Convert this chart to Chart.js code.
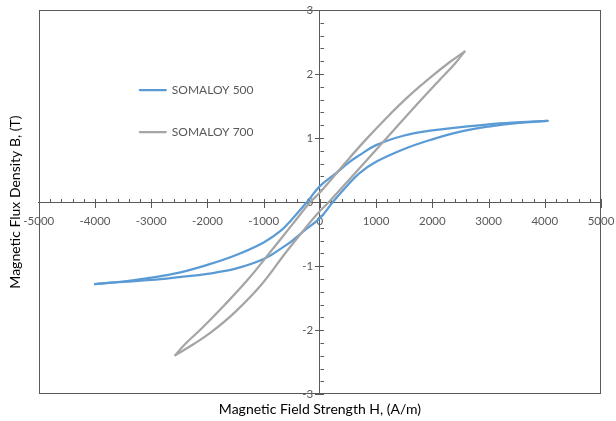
<!DOCTYPE html>
<html>
<head>
<meta charset="utf-8">
<script src="https://cdn.jsdelivr.net/npm/chart.js@4.4.1/dist/chart.umd.min.js"></script>
<style>
html,body{margin:0;padding:0;background:#ffffff;}
#wrap{width:616px;height:421px;position:relative;}
</style>
</head>
<body>
<div id="wrap"><canvas id="c" width="616" height="421"></canvas></div>
<script>
// ---- data ----
const seriesNames = ['SOMALOY 500', 'SOMALOY 700'];
const seriesColors = ['#5B9BD5', '#A5A5A5'];
const hTicks = [-5000, -4000, -3000, -2000, -1000, 0, 1000, 2000, 3000, 4000, 5000];
const bTicks = [-3, -2, -1, 0, 1, 2, 3];

// SOMALOY 500 : descending branch (from +tip to -tip)
const s500DescH = [4050, 3500, 3000, 2500, 2000, 1500, 1000, 700, 500, 300, 0, -230, -500, -700, -1000, -1500, -2000, -2500, -3000, -3500, -4000];
const s500DescB = [1.27, 1.245, 1.215, 1.17, 1.12, 1.04, 0.89, 0.73, 0.61, 0.46, 0.25, 0.0, -0.27, -0.45, -0.63, -0.83, -0.98, -1.10, -1.18, -1.24, -1.28];
// SOMALOY 500 : ascending branch (from -tip to +tip)
const s500AscH = [-4000, -3500, -3000, -2500, -2000, -1500, -1000, -700, -500, -300, 0, 230, 500, 700, 1000, 1500, 2000, 2500, 3000, 3500, 4050];
const s500AscB = [-1.28, -1.245, -1.215, -1.17, -1.12, -1.04, -0.89, -0.73, -0.61, -0.46, -0.25, 0.0, 0.27, 0.45, 0.63, 0.83, 0.98, 1.10, 1.18, 1.235, 1.27];

// SOMALOY 700 : descending branch (from +tip to -tip)
const s700DescH = [2572, 2300, 2000, 1600, 1200, 800, 400, 0, -170, -500, -900, -1300, -1700, -2100, -2400, -2570];
const s700DescB = [2.35, 2.18, 1.97, 1.67, 1.33, 0.96, 0.56, 0.15, 0.0, -0.36, -0.80, -1.23, -1.61, -1.97, -2.22, -2.39];
// SOMALOY 700 : ascending branch (from -tip to +tip)
const s700AscH = [-2570, -2250, -1945, -1500, -1050, -600, -300, 0, 160, 500, 900, 1300, 1700, 2100, 2400, 2572];
const s700AscB = [-2.39, -2.22, -2.04, -1.71, -1.30, -0.78, -0.45, -0.14, 0.0, 0.33, 0.72, 1.11, 1.50, 1.88, 2.16, 2.35];

const xTitle = 'Magnetic Field Strength H, (A/m)';
const yTitle = 'Magnetic Flux Density B, (T)';

// ---- helpers ----
const toPts = (hs, bs) => hs.map((h, i) => ({x: h, y: bs[i]}));
const FONT = 'Lato, "Open Sans", "DejaVu Sans", sans-serif';
const AXIS_COLOR = '#595959';

function lineDs(label, hs, bs, color, order) {
  return {
    label: label,
    data: toPts(hs, bs),
    showLine: true,
    borderColor: color,
    backgroundColor: color,
    borderWidth: 2.25,
    pointRadius: 0,
    pointHoverRadius: 0,
    tension: 0.4,
    borderCapStyle: 'round',
    borderJoinStyle: 'round',
    fill: false,
    order: order
  };
}

const decorPlugin = {
  id: 'decor',
  beforeDatasetsDraw(chart) {
    const {ctx, chartArea: a, scales: {x, y}} = chart;
    ctx.save();
    // plot-area frame
    ctx.strokeStyle = AXIS_COLOR;
    ctx.lineWidth = 1;
    ctx.strokeRect(Math.round(a.left) + 0.5, Math.round(a.top) + 0.5,
                   Math.round(a.right - a.left) - 1, Math.round(a.bottom - a.top) - 1);
    // tick marks on the crossing axes
    const y0 = Math.round(y.getPixelForValue(0)) + 0.5;
    const x0 = Math.round(x.getPixelForValue(0)) + 0.5;
    ctx.beginPath();
    for (let v = hTicks[0]; v <= hTicks[hTicks.length - 1] + 1; v += 200) {
      const px = Math.round(x.getPixelForValue(v)) + 0.5;
      const major = Math.abs(v % 1000) < 1e-6;
      if (major) { ctx.moveTo(px, y0 - 3.5); ctx.lineTo(px, y0 + 5.5); }
      else { ctx.moveTo(px, y0 - 3.5); ctx.lineTo(px, y0); }
    }
    for (let k = bTicks[0] * 5; k <= bTicks[bTicks.length - 1] * 5; k += 1) {
      const v = k / 5;
      const py = Math.round(y.getPixelForValue(v)) + 0.5;
      const major = k % 5 === 0;
      if (major) { ctx.moveTo(x0 - 5.5, py); ctx.lineTo(x0 + 3.5, py); }
      else { ctx.moveTo(x0, py); ctx.lineTo(x0 + 3.5, py); }
    }
    ctx.stroke();
    ctx.restore();
  },
  afterDatasetsDraw(chart) {
    const {ctx, chartArea: a} = chart;
    ctx.save();
    ctx.font = '12px ' + FONT;
    ctx.textBaseline = 'middle';
    ctx.textAlign = 'left';
    const rows = [a.top + 80, a.top + 122];
    seriesNames.forEach((name, i) => {
      const yy = rows[i];
      const lx = a.left + 101;
      ctx.strokeStyle = seriesColors[i];
      ctx.lineWidth = 2.25;
      ctx.lineCap = 'round';
      ctx.beginPath();
      ctx.moveTo(lx, yy);
      ctx.lineTo(lx + 26, yy);
      ctx.stroke();
      ctx.fillStyle = AXIS_COLOR;
      ctx.fillText(name, lx + 32, yy);
    });
    ctx.restore();
  }
};

const tickFont = {family: FONT, size: 11.5};
const plainLabel = v => String(v);

new Chart(document.getElementById('c'), {
  type: 'scatter',
  data: {
    datasets: [
      lineDs(seriesNames[0], s500DescH, s500DescB, seriesColors[0], 2),
      lineDs(seriesNames[0], s500AscH, s500AscB, seriesColors[0], 2),
      lineDs(seriesNames[1], s700DescH, s700DescB, seriesColors[1], 1),
      lineDs(seriesNames[1], s700AscH, s700AscB, seriesColors[1], 1)
    ]
  },
  options: {
    responsive: false,
    animation: false,
    devicePixelRatio: 1,
    layout: {padding: {left: 5, right: 15, top: 10, bottom: 0}},
    plugins: {legend: {display: false}, tooltip: {enabled: false}},
    scales: {
      x: {
        type: 'linear', min: -5000, max: 5000, position: {y: 0},
        afterBuildTicks: s => { s.ticks = hTicks.map(v => ({value: v})); },
        grid: {display: true, drawOnChartArea: false, drawTicks: true, tickLength: 12, tickColor: 'rgba(0,0,0,0)'},
        border: {display: true, color: AXIS_COLOR, width: 1},
        ticks: {color: AXIS_COLOR, font: tickFont, padding: 0, maxRotation: 0, autoSkip: false, callback: plainLabel}
      },
      y: {
        type: 'linear', min: -3, max: 3, position: {x: 0},
        afterBuildTicks: s => { s.ticks = bTicks.map(v => ({value: v})); },
        grid: {display: true, drawOnChartArea: false, drawTicks: false},
        border: {display: true, color: AXIS_COLOR, width: 1},
        ticks: {display: false}
      },
      yLab: {
        type: 'linear', axis: 'y', min: -3, max: 3, position: {x: -120},
        afterBuildTicks: s => { s.ticks = bTicks.map(v => ({value: v})); },
        grid: {display: true, drawOnChartArea: false, drawTicks: false},
        border: {display: false},
        ticks: {color: AXIS_COLOR, font: tickFont, padding: 0, autoSkip: false, callback: plainLabel}
      },
      xT: {
        type: 'linear', axis: 'x', min: -5000, max: 5000, position: 'bottom',
        grid: {display: false, drawTicks: false}, border: {display: false},
        ticks: {display: false},
        title: {display: true, text: xTitle, color: '#000000', font: {family: FONT, size: 14}, padding: {top: 7, bottom: 3}}
      },
      yT: {
        type: 'linear', axis: 'y', min: -3, max: 3, position: 'left',
        grid: {display: false, drawTicks: false}, border: {display: false},
        ticks: {display: false},
        title: {display: true, text: yTitle, color: '#000000', font: {family: FONT, size: 14}, padding: {top: 2, bottom: 15}}
      }
    }
  },
  plugins: [decorPlugin]
});
</script>
</body>
</html>
